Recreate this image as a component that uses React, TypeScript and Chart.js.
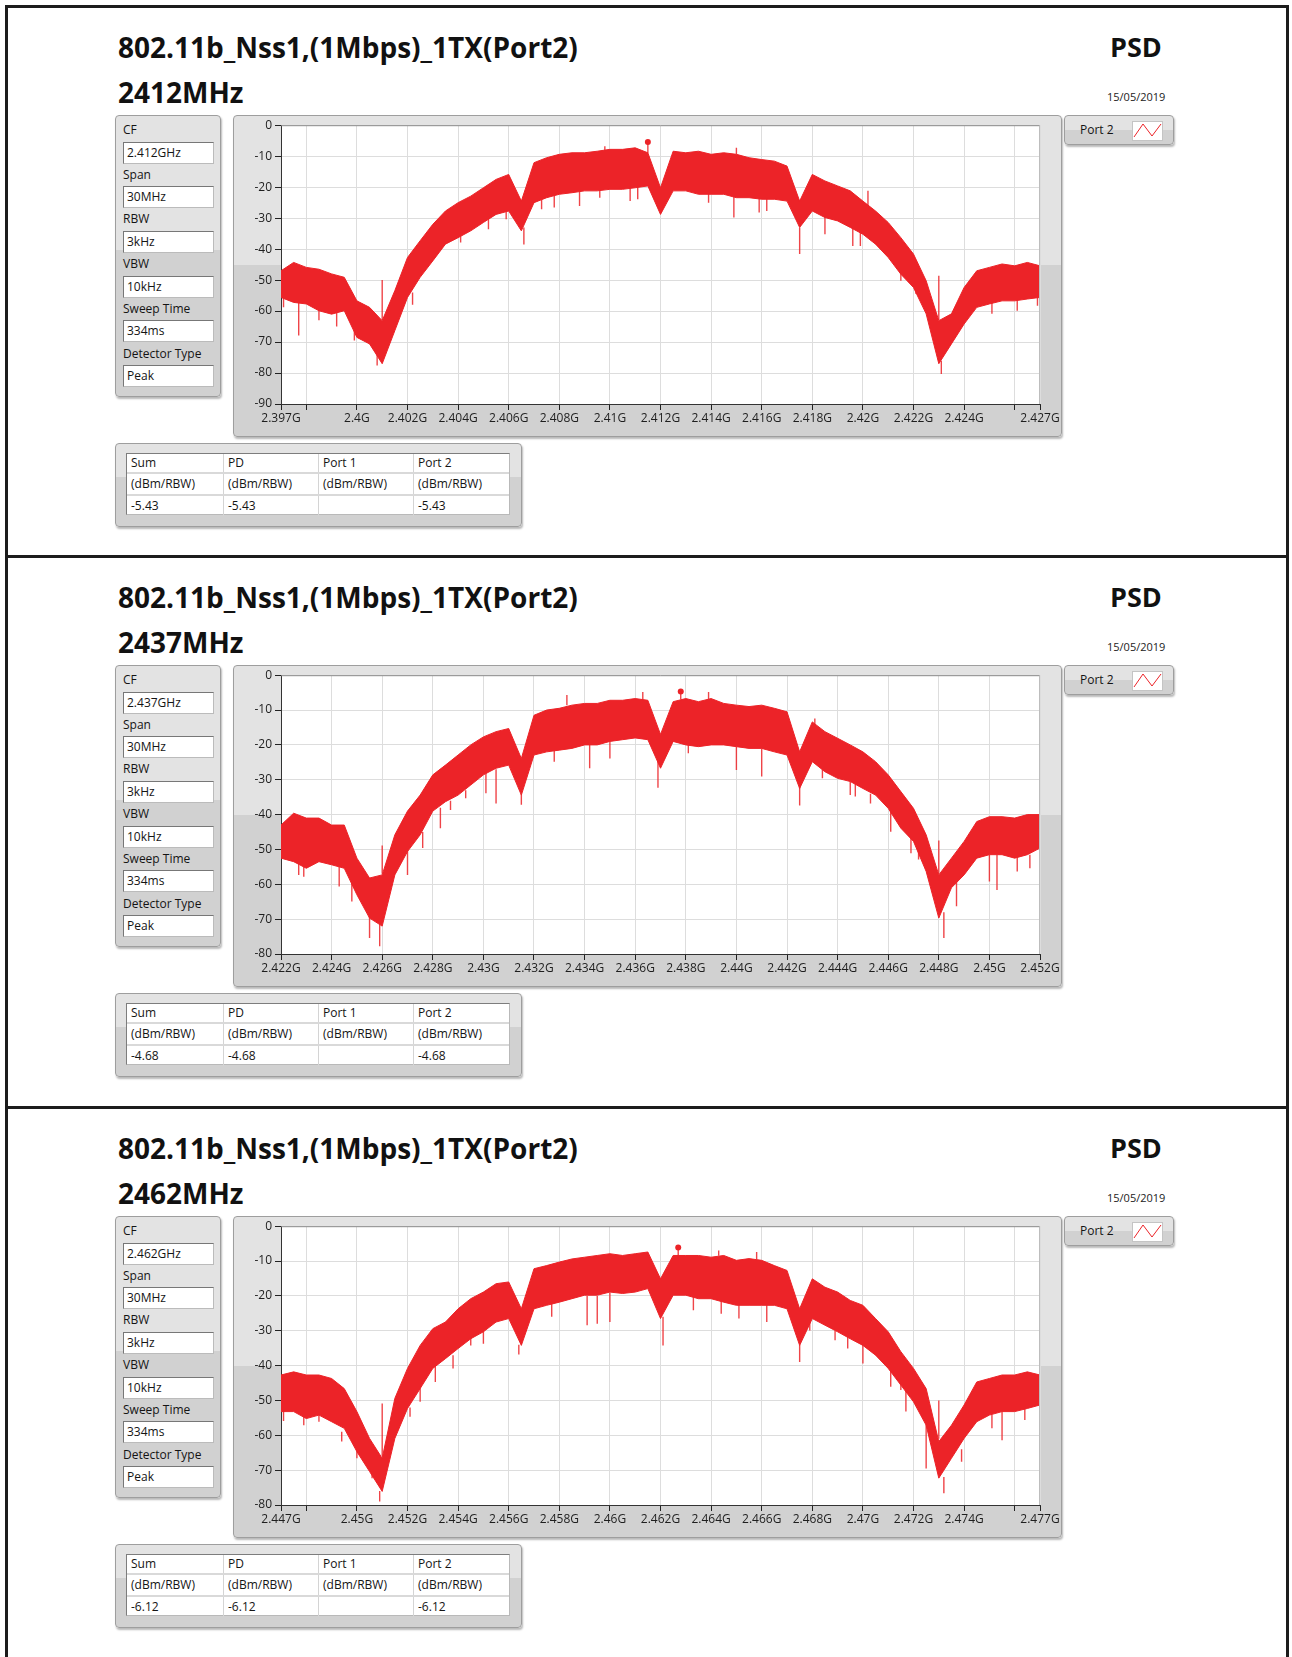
import React, { useEffect, useRef } from 'react';
import { Chart, registerables } from 'chart.js';

Chart.register(...registerables);

const FONT = "'Open Sans', 'Noto Sans', sans-serif";
const RED = '#ec2328';
const SPIKE = 'rgba(236,35,40,0.85)';

// ---------------- Panel 1 (CF 2.412 GHz) ----------------
const freq1 = [2.397, 2.3975, 2.398, 2.3985, 2.399, 2.3995, 2.4, 2.4005, 2.401, 2.4015, 2.402, 2.4025, 2.403, 2.4035, 2.404, 2.4045, 2.405, 2.4055, 2.406, 2.4065, 2.407, 2.4075, 2.408, 2.4085, 2.409, 2.4095, 2.41, 2.4105, 2.411, 2.4115, 2.412, 2.4125, 2.413, 2.4135, 2.414, 2.4145, 2.415, 2.4155, 2.416, 2.4165, 2.417, 2.4175, 2.418, 2.4185, 2.419, 2.4195, 2.42, 2.4205, 2.421, 2.4215, 2.422, 2.4225, 2.423, 2.4235, 2.424, 2.4245, 2.425, 2.4255, 2.426, 2.4265, 2.427];
const upper1 = [-47, -44.3, -45.9, -46.5, -48, -49.1, -56.7, -58.8, -63.1, -53.4, -42.7, -37.3, -32, -27.7, -25, -22.9, -20.2, -17.5, -15.9, -24.5, -12.1, -10.5, -9.4, -8.9, -8.9, -8.4, -7.8, -7.8, -7.3, -8.9, -20.2, -8.4, -8.9, -8.4, -9.4, -8.9, -9.4, -10.5, -11.1, -11.6, -13.2, -24.5, -15.9, -18, -19.6, -21.2, -24.5, -27.7, -31.4, -36.3, -41.6, -50.2, -63.1, -60.9, -52.4, -47, -45.9, -44.8, -45.4, -44.3, -45.4];
const lower1 = [-55.6, -57.2, -57.7, -59.9, -61, -59.9, -68.5, -70.6, -77, -66.3, -55.6, -49.1, -43.8, -38.4, -36.3, -34.1, -31.4, -28.8, -27.7, -34.1, -25, -23.4, -22.3, -21.8, -21.2, -21.2, -20.7, -20.7, -20.2, -19.6, -28.8, -21.2, -21.2, -22.3, -22.3, -22.3, -23.4, -23.4, -23.9, -23.9, -24.5, -33, -27.7, -29.8, -30.9, -33, -35.2, -38.4, -42.7, -48.1, -52.4, -60.9, -77, -70.6, -64.2, -58.8, -57.7, -56.7, -56.7, -56.1, -55.6];
const spikeF1 = [2.3971, 2.3977, 2.3985, 2.3992, 2.3999, 2.4008, 2.4022, 2.4041, 2.4052, 2.4059, 2.4066, 2.4073, 2.4078, 2.4088, 2.4096, 2.4108, 2.4111, 2.4139, 2.4149, 2.4159, 2.4162, 2.4175, 2.4185, 2.4196, 2.4199, 2.4215, 2.4221, 2.4231, 2.4251, 2.4261, 2.4269, 2.401, 2.4098, 2.4115, 2.415, 2.4202, 2.423];
const spikeFrom1 = [-55, -56, -58, -58, -66, -72, -54, -34, -29, -27, -33, -24, -22.5, -21, -20.5, -19.5, -19.5, -21.5, -22, -23, -23, -33, -29, -32, -32, -47, -52, -76, -57, -56, -55, -63, -8.4, -9, -9.4, -27, -63];
const spikeTo1 = [-58.8, -67.9, -63, -65, -69.5, -77.6, -58, -37.9, -33.6, -30.4, -38.5, -27.1, -26.6, -26.1, -23.4, -24.5, -23.9, -25, -29.8, -28.2, -27.7, -41.6, -35.2, -39, -39, -50.2, -54.5, -80.3, -60.9, -59.9, -58.3, -50, -6.8, -5.43, -7.3, -21.2, -48.6];
const peakF1 = 2.4115;
const peakV1 = -5.43;
const xTicks1 = [2.397, 2.398, 2.4, 2.402, 2.404, 2.406, 2.408, 2.41, 2.412, 2.414, 2.416, 2.418, 2.42, 2.422, 2.424, 2.426, 2.427];
const xLabels1 = ['2.397G', '', '2.4G', '2.402G', '2.404G', '2.406G', '2.408G', '2.41G', '2.412G', '2.414G', '2.416G', '2.418G', '2.42G', '2.422G', '2.424G', '', '2.427G'];

// ---------------- Panel 2 (CF 2.437 GHz) ----------------
const freq2 = [2.422, 2.4225, 2.423, 2.4235, 2.424, 2.4245, 2.425, 2.4255, 2.426, 2.4265, 2.427, 2.4275, 2.428, 2.4285, 2.429, 2.4295, 2.43, 2.4305, 2.431, 2.4315, 2.432, 2.4325, 2.433, 2.4335, 2.434, 2.4345, 2.435, 2.4355, 2.436, 2.4365, 2.437, 2.4375, 2.438, 2.4385, 2.439, 2.4395, 2.44, 2.4405, 2.441, 2.4415, 2.442, 2.4425, 2.443, 2.4435, 2.444, 2.4445, 2.445, 2.4455, 2.446, 2.4465, 2.447, 2.4475, 2.448, 2.4485, 2.449, 2.4495, 2.45, 2.4505, 2.451, 2.4515, 2.452];
const upper2 = [-43, -39.6, -41, -41, -43, -43, -52.5, -58.2, -57.3, -45.8, -39, -34.4, -28.6, -25.8, -22.9, -20, -17.7, -16.2, -15.3, -23.9, -11.5, -10, -9.5, -8.6, -8.1, -8.1, -7.2, -7.2, -6.7, -7.2, -17, -7.6, -6.7, -7.6, -6.7, -8.1, -8.6, -9, -8.6, -9.5, -10.5, -22, -13.4, -16.2, -18.1, -20, -22, -24.8, -28.6, -33.4, -38.2, -45.8, -57.3, -52.5, -47.7, -42, -40.6, -40.6, -41, -40, -40];
const lower2 = [-52.5, -53.5, -55.4, -53.5, -54.4, -55.4, -63, -69.7, -72, -57.3, -50.6, -45.8, -39, -36.3, -34.4, -31.5, -28.6, -26.7, -25.8, -34.4, -22.9, -22, -21.5, -21, -20, -20, -19, -18.5, -18, -18.5, -26.7, -19, -20, -20.5, -20, -20, -20.5, -21, -21, -22, -22.9, -32.5, -24.8, -27.7, -29.6, -30.5, -32.5, -34.4, -38.2, -43.9, -47.7, -56.3, -69.7, -61, -57.3, -52.5, -51.5, -51.5, -52.5, -51.5, -49.6];
const spikeF2 = [2.4227, 2.4229, 2.4243, 2.4248, 2.4255, 2.4259, 2.427, 2.4276, 2.4283, 2.4287, 2.4293, 2.4301, 2.4305, 2.4315, 2.4328, 2.4342, 2.435, 2.4369, 2.4381, 2.44, 2.441, 2.4425, 2.4434, 2.4445, 2.4447, 2.4453, 2.4461, 2.4469, 2.4472, 2.4482, 2.4487, 2.45, 2.4503, 2.4511, 2.4516, 2.426, 2.4333, 2.4363, 2.4378, 2.4389, 2.4431, 2.448];
const spikeFrom2 = [-52, -54, -54, -58, -68, -70, -50, -45, -38, -36, -33, -28, -27, -34, -21.5, -20, -19, -24, -20, -20.5, -21, -32, -27, -30.5, -31, -34, -39, -46, -48, -68, -59, -51.5, -51.5, -52, -51.5, -57, -8.6, -7, -7, -7, -15, -57];
const spikeTo2 = [-57.3, -57.8, -60.6, -64.9, -75.4, -77.8, -57.3, -49.6, -43.9, -38.7, -35.3, -33.9, -36.8, -37.2, -24.8, -26.7, -23.9, -32.3, -22.4, -27.2, -29.1, -37.4, -29.6, -34.4, -34.8, -36.8, -44.9, -51.1, -52.9, -75.4, -66.3, -59.2, -61.6, -56.3, -55.4, -48.9, -5.7, -4.8, -4.68, -4.8, -12.4, -47.4];
const peakF2 = 2.4378;
const peakV2 = -4.68;
const xTicks2 = [2.422, 2.424, 2.426, 2.428, 2.43, 2.432, 2.434, 2.436, 2.438, 2.44, 2.442, 2.444, 2.446, 2.448, 2.45, 2.452];
const xLabels2 = ['2.422G', '2.424G', '2.426G', '2.428G', '2.43G', '2.432G', '2.434G', '2.436G', '2.438G', '2.44G', '2.442G', '2.444G', '2.446G', '2.448G', '2.45G', '2.452G'];

// ---------------- Panel 3 (CF 2.462 GHz) ----------------
const freq3 = [2.447, 2.4475, 2.448, 2.4485, 2.449, 2.4495, 2.45, 2.4505, 2.451, 2.4515, 2.452, 2.4525, 2.453, 2.4535, 2.454, 2.4545, 2.455, 2.4555, 2.456, 2.4565, 2.457, 2.4575, 2.458, 2.4585, 2.459, 2.4595, 2.46, 2.4605, 2.461, 2.4615, 2.462, 2.4625, 2.463, 2.4635, 2.464, 2.4645, 2.465, 2.4655, 2.466, 2.4665, 2.467, 2.4675, 2.468, 2.4685, 2.469, 2.4695, 2.47, 2.4705, 2.471, 2.4715, 2.472, 2.4725, 2.473, 2.4735, 2.474, 2.4745, 2.475, 2.4755, 2.476, 2.4765, 2.477];
const upper3 = [-42.7, -41.8, -42.7, -42.7, -43.7, -46.6, -53.2, -60.9, -66.6, -49.4, -40.8, -34.2, -29.4, -27.5, -23.7, -20.8, -18.9, -16.5, -16, -23.7, -12.2, -11.3, -10.3, -9.4, -8.9, -8.4, -7.9, -8.4, -7.9, -7.4, -15.1, -8.4, -8.4, -8.4, -8.9, -8.4, -9.8, -9.3, -9.8, -11.3, -12.7, -23.7, -15.1, -17.5, -18.9, -21.3, -22.7, -26.5, -30.3, -36, -40.8, -46.6, -61.8, -57.1, -51.3, -44.7, -43.7, -42.7, -42.7, -41.8, -42.7];
const lower3 = [-53.2, -53.2, -55.2, -54.2, -56.1, -58, -64.7, -70.4, -76.1, -60.9, -52.3, -46.6, -40.8, -38, -35.1, -32.3, -30.3, -27.5, -26.5, -34.2, -23.7, -22.7, -21.8, -20.8, -19.8, -19.8, -18.9, -19.3, -18.9, -17.9, -26.5, -19.8, -19.8, -20.8, -20.8, -21.8, -22.7, -22.7, -22.7, -22.7, -23.7, -34.2, -26.5, -28.4, -30.3, -32.3, -34.2, -37, -40.8, -45.6, -50.4, -57.1, -72.3, -66.6, -60.9, -56.1, -54.2, -53.2, -53.2, -52.3, -51.3];
const spikeF3 = [2.4471, 2.4479, 2.4485, 2.4494, 2.45, 2.4506, 2.4509, 2.4521, 2.4525, 2.4531, 2.4538, 2.4545, 2.455, 2.4564, 2.4577, 2.4591, 2.4595, 2.46, 2.4621, 2.4633, 2.4644, 2.4651, 2.4662, 2.4675, 2.4679, 2.4689, 2.4694, 2.47, 2.4711, 2.4715, 2.4717, 2.4725, 2.4732, 2.4739, 2.4751, 2.4755, 2.4764, 2.451, 2.4627, 2.4643, 2.4658, 2.473];
const spikeFrom3 = [-53, -54, -54, -59, -64, -70, -76, -52, -46, -40, -37, -32, -30, -34, -22, -20, -20, -19, -26, -20, -21, -22.5, -22.5, -34, -27, -30, -31.5, -34, -40, -45, -46, -57, -72, -64, -54, -53, -52, -66, -8.4, -8.5, -9.5, -61];
const spikeTo3 = [-55.9, -57.1, -56.1, -61.8, -66.6, -72.3, -79, -54.7, -50.4, -44.7, -40.8, -34.2, -33.7, -36.8, -26, -28.4, -28, -27.5, -34.2, -24.1, -25.1, -26.5, -27.5, -39, -29.9, -32.7, -35.1, -39.4, -46.1, -47, -53.2, -69.5, -76.6, -67.6, -58, -61.4, -55.6, -50.9, -6.12, -7, -7.4, -50];
const peakF3 = 2.4627;
const peakV3 = -6.12;
const xTicks3 = [2.447, 2.448, 2.45, 2.452, 2.454, 2.456, 2.458, 2.46, 2.462, 2.464, 2.466, 2.468, 2.47, 2.472, 2.474, 2.476, 2.477];
const xLabels3 = ['2.447G', '', '2.45G', '2.452G', '2.454G', '2.456G', '2.458G', '2.46G', '2.462G', '2.464G', '2.466G', '2.468G', '2.47G', '2.472G', '2.474G', '', '2.477G'];

// ---------------- Text content ----------------
const titleText = '802.11b_Nss1,(1Mbps)_1TX(Port2)';
const channelLabels = ['2412MHz', '2437MHz', '2462MHz'];
const cfValues = ['2.412GHz', '2.437GHz', '2.462GHz'];
const yMins = [-90, -80, -80];
const sumValues = ['-5.43', '-4.68', '-6.12'];
const paramNames = ['CF', 'Span', 'RBW', 'VBW', 'Sweep Time', 'Detector Type'];
const commonParamValues = ['30MHz', '3kHz', '10kHz', '334ms', 'Peak'];
const tableHeaders = ['Sum', 'PD', 'Port 1', 'Port 2'];
const dateText = '15/05/2019';
const panelOffsets = [0, 550, 1101];

const series = [
  { freq: freq1, upper: upper1, lower: lower1, sf: spikeF1, sa: spikeFrom1, sb: spikeTo1, pf: peakF1, pv: peakV1, ticks: xTicks1, labels: xLabels1 },
  { freq: freq2, upper: upper2, lower: lower2, sf: spikeF2, sa: spikeFrom2, sb: spikeTo2, pf: peakF2, pv: peakV2, ticks: xTicks2, labels: xLabels2 },
  { freq: freq3, upper: upper3, lower: lower3, sf: spikeF3, sa: spikeFrom3, sb: spikeTo3, pf: peakF3, pv: peakV3, ticks: xTicks3, labels: xLabels3 },
];

const LIGHT = '#e3e3e3';
const DARK = '#d1d1d1';
const glare = (pct: number) => `linear-gradient(to bottom, ${LIGHT} 0%, ${LIGHT} ${pct}%, ${DARK} ${pct}%, ${DARK} 100%)`;

const plotDecor = {
  id: 'plotDecor',
  beforeDraw(chart: any) {
    const { ctx, chartArea } = chart;
    ctx.save();
    ctx.fillStyle = '#ffffff';
    ctx.fillRect(chartArea.left, chartArea.top, chartArea.right - chartArea.left, chartArea.bottom - chartArea.top);
    ctx.restore();
  },
  afterDraw(chart: any) {
    const { ctx, chartArea } = chart;
    ctx.save();
    ctx.strokeStyle = '#8c8c8c';
    ctx.lineWidth = 1;
    ctx.beginPath();
    ctx.moveTo(chartArea.left, chartArea.top + 0.5);
    ctx.lineTo(chartArea.right, chartArea.top + 0.5);
    ctx.stroke();
    ctx.strokeStyle = '#bdbdbd';
    ctx.beginPath();
    ctx.moveTo(chartArea.right - 0.5, chartArea.top);
    ctx.lineTo(chartArea.right - 0.5, chartArea.bottom);
    ctx.stroke();
    ctx.restore();
  },
};

function SpectrumChart({ idx, top }: { idx: number; top: number }) {
  const ref = useRef<HTMLCanvasElement | null>(null);
  useEffect(() => {
    const s = series[idx];
    const spikeData: any[] = [];
    s.sf.forEach((f, i) => {
      spikeData.push({ x: f, y: s.sa[i] });
      spikeData.push({ x: f, y: s.sb[i] });
      spikeData.push({ x: f, y: null });
    });
    const chart = new Chart(ref.current as HTMLCanvasElement, {
      type: 'line',
      data: {
        datasets: [
          { data: s.freq.map((f, i) => ({ x: f, y: s.upper[i] })), borderColor: RED, borderWidth: 1, pointRadius: 0, fill: false },
          { data: s.freq.map((f, i) => ({ x: f, y: s.lower[i] })), borderColor: RED, borderWidth: 1, pointRadius: 0, fill: '-1', backgroundColor: RED },
          { data: spikeData, borderColor: SPIKE, borderWidth: 1.4, pointRadius: 0, spanGaps: false, fill: false },
          { data: [{ x: s.pf, y: s.pv }], showLine: false, pointRadius: 3, pointBackgroundColor: RED, pointBorderColor: RED, pointBorderWidth: 0, fill: false },
        ] as any,
      },
      options: {
        responsive: false,
        animation: false,
        layout: { padding: { top: 8, right: 22, left: 0, bottom: 0 } },
        plugins: { legend: { display: false }, tooltip: { enabled: false } },
        elements: { line: { tension: 0 } },
        scales: {
          x: {
            type: 'linear',
            min: s.ticks[0],
            max: s.ticks[s.ticks.length - 1],
            offset: false,
            afterBuildTicks: (scale: any) => {
              scale.ticks = s.ticks.map((v) => ({ value: v }));
            },
            afterFit: (scale: any) => {
              scale.height = 33;
            },
            grid: { color: '#dddddd', lineWidth: 1, tickLength: 6, tickColor: '#222222', drawTicks: true },
            border: { color: '#333333', width: 1 },
            ticks: {
              autoSkip: false,
              maxRotation: 0,
              minRotation: 0,
              padding: 1,
              color: '#1e1e1e',
              font: { family: FONT, size: 12 },
              callback: (_v: any, i: number) => s.labels[i],
            },
          },
          y: {
            type: 'linear',
            min: yMins[idx],
            max: 0,
            afterFit: (scale: any) => {
              scale.width = 48;
            },
            grid: { color: '#dddddd', lineWidth: 1, tickLength: 6, tickColor: '#222222', drawTicks: true },
            border: { color: '#333333', width: 1 },
            ticks: { stepSize: 10, padding: 3, color: '#1e1e1e', font: { family: FONT, size: 12 } },
          },
        },
      } as any,
      plugins: [plotDecor],
    });
    return () => chart.destroy();
  }, [idx]);
  return (
    <canvas
      ref={ref}
      width={829}
      height={322}
      style={{ position: 'absolute', left: 233, top, width: 829, height: 322 }}
    />
  );
}

const boxStyle: React.CSSProperties = {
  position: 'absolute',
  boxSizing: 'border-box',
  border: '1px solid #9e9e9e',
  borderRadius: 4,
  boxShadow: '1px 2px 2px rgba(0,0,0,0.28)',
};

const smallText: React.CSSProperties = {
  fontFamily: FONT,
  fontSize: 12,
  color: '#141414',
  whiteSpace: 'nowrap',
};

function Panel({ idx }: { idx: number }) {
  const dy = panelOffsets[idx];
  const labelTops = [7, 52, 96, 141, 186, 231];
  const boxTops = [26, 70, 115, 160, 204, 249];
  const values = [cfValues[idx], ...commonParamValues];
  const colW = [97, 95, 95, 97];
  const rowH = [20, 22, 20];
  const rows = [tableHeaders, tableHeaders.map(() => '(dBm/RBW)'), [sumValues[idx], sumValues[idx], '', sumValues[idx]]];
  return (
    <>
      <div style={{ position: 'absolute', left: 118, top: 33 + dy, fontFamily: FONT, fontWeight: 700, fontSize: 28, lineHeight: '28px', color: '#111', whiteSpace: 'nowrap' }}>{titleText}</div>
      <div style={{ position: 'absolute', left: 118, top: 78 + dy, fontFamily: FONT, fontWeight: 700, fontSize: 28, lineHeight: '28px', color: '#111', whiteSpace: 'nowrap' }}>{channelLabels[idx]}</div>
      <div style={{ position: 'absolute', left: 1110, top: 33 + dy, fontFamily: FONT, fontWeight: 700, fontSize: 27, lineHeight: '28px', color: '#111' }}>PSD</div>
      <div style={{ position: 'absolute', left: 1107, top: 90 + dy, fontFamily: FONT, fontSize: 11, lineHeight: '14px', color: '#222' }}>{dateText}</div>

      {/* parameter panel */}
      <div style={{ ...boxStyle, left: 115, top: 115 + dy, width: 106, height: 282, background: glare(48) }}>
        {paramNames.map((n, i) => (
          <div key={n} style={{ ...smallText, position: 'absolute', left: 7, top: labelTops[i], lineHeight: '14px' }}>{n}</div>
        ))}
        {values.map((v, i) => (
          <div key={i} style={{ ...smallText, position: 'absolute', left: 7, top: boxTops[i], width: 91, height: 22, boxSizing: 'border-box', background: '#fff', borderTop: '1px solid #777', borderLeft: '1px solid #777', borderRight: '1px solid #bbb', borderBottom: '1px solid #bbb', paddingLeft: 3, lineHeight: '20px' }}>{v}</div>
        ))}
      </div>

      {/* chart frame */}
      <div style={{ ...boxStyle, left: 233, top: 115 + dy, width: 829, height: 322, background: glare(46.5) }} />
      <SpectrumChart idx={idx} top={115 + dy} />

      {/* legend */}
      <div style={{ ...boxStyle, left: 1064, top: 115 + dy, width: 110, height: 30, background: glare(50) }}>
        <div style={{ ...smallText, position: 'absolute', left: 15, top: 6, lineHeight: '16px' }}>Port 2</div>
        <div style={{ position: 'absolute', left: 67, top: 5, width: 31, height: 20, boxSizing: 'border-box', background: '#fff', border: '1px solid #c4c4c4' }}>
          <svg width="29" height="18" style={{ position: 'absolute', left: 0, top: 0 }}>
            <polyline points="1,15 10,2 19,14 28,2" fill="none" stroke={RED} strokeWidth="1" />
          </svg>
        </div>
      </div>

      {/* results table */}
      <div style={{ ...boxStyle, left: 115, top: 443 + dy, width: 407, height: 84, background: glare(40) }}>
        <div style={{ position: 'absolute', left: 10, top: 9, width: 384, height: 62, boxSizing: 'border-box', background: '#fff', borderTop: '1px solid #7d7d7d', borderLeft: '1px solid #7d7d7d', borderRight: '1px solid #b9b9b9', borderBottom: '1px solid #b9b9b9' }}>
          {rows.map((r, ri) => (
            <div key={ri} style={{ display: 'flex', height: rowH[ri], boxSizing: 'border-box', borderBottom: ri < 2 ? '2px solid #d9d9d9' : 'none' }}>
              {r.map((c, ci) => (
                <div key={ci} style={{ ...smallText, width: colW[ci] - (ci === 3 ? 2 : 0), boxSizing: 'border-box', borderRight: ci < 3 ? '1px solid #d4d4d4' : 'none', paddingLeft: 4, lineHeight: `${rowH[ri] - (ri < 2 ? 2 : 0)}px` }}>{c}</div>
              ))}
            </div>
          ))}
        </div>
      </div>
    </>
  );
}

export default function App() {
  return (
    <div style={{ position: 'absolute', left: 0, top: 0, width: 1292, height: 1657, background: '#fff', overflow: 'hidden' }}>
      {/* outer frame lines */}
      <div style={{ position: 'absolute', left: 5, top: 5, width: 1284, height: 3, background: '#1c1c1c' }} />
      <div style={{ position: 'absolute', left: 5, top: 5, width: 3, height: 1652, background: '#1c1c1c' }} />
      <div style={{ position: 'absolute', left: 1286, top: 5, width: 3, height: 1652, background: '#1c1c1c' }} />
      <div style={{ position: 'absolute', left: 5, top: 555, width: 1284, height: 3, background: '#1c1c1c' }} />
      <div style={{ position: 'absolute', left: 5, top: 1106, width: 1284, height: 3, background: '#1c1c1c' }} />
      {[0, 1, 2].map((i) => (
        <Panel key={i} idx={i} />
      ))}
    </div>
  );
}
